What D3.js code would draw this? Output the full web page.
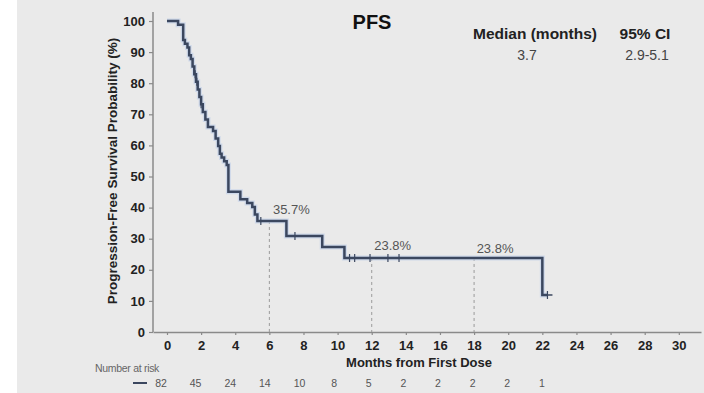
<!DOCTYPE html>
<html>
<head>
<meta charset="utf-8">
<title>PFS</title>
<script src="https://d3js.org/d3.v7.min.js"></script>
<style>
  body { margin: 0; background: #fff; font-family: "Liberation Sans", Arial, sans-serif; }
</style>
</head>
<body>
<svg id="chart"></svg>
<script>
// KM step points (months, survival %)
var stepTimes = [0, 0.65, 0.95, 1.05, 1.2, 1.3, 1.4, 1.5, 1.6, 1.7, 1.8, 1.9, 2.0, 2.1, 2.25, 2.4, 2.7, 2.85, 3.0, 3.1, 3.2, 3.35, 3.5, 3.6, 4.3, 4.7, 5.0, 5.15, 5.3, 7.0, 9.1, 10.4, 22.0];
var stepSurv  = [100, 98.8, 93.9, 92.7, 91.5, 89.0, 87.8, 85.4, 82.9, 80.5, 78.0, 75.6, 73.2, 70.7, 68.3, 65.9, 64.6, 62.2, 59.8, 57.3, 56.1, 54.9, 53.7, 45.1, 42.7, 41.5, 40.2, 37.8, 35.7, 30.9, 27.3, 23.8, 11.9];
var lastTime = 22.3;
// censor marks (months)
var censorTimes = [1.65, 1.75, 2.0, 5.5, 7.5, 10.7, 11.0, 11.9, 12.95, 13.6, 22.3];
// landmark labels
var landmarkMonths = [6, 12, 18];
var landmarkLabels = ["35.7%", "23.8%", "23.8%"];
var landmarkSurv = [35.7, 23.8, 23.8];
// number at risk
var riskMonths = [0, 2, 4, 6, 8, 10, 12, 14, 16, 18, 20, 22];
var riskCounts = [82, 45, 24, 14, 10, 8, 5, 2, 2, 2, 2, 1];
var xTicks = d3.range(0, 31, 2);
var yTicks = d3.range(0, 101, 10);

var W = 704, H = 393;
var svg = d3.select("#chart").attr("width", W).attr("height", H);

svg.append("rect").attr("x", 17).attr("y", 0).attr("width", W - 17).attr("height", H).attr("fill", "#eaeaea");

var x = d3.scaleLinear().domain([-0.82, 31.3]).range([153, 701]);
var y = d3.scaleLinear().domain([0, 100]).range([332, 21]);

// axes
var xAxis = svg.append("g").attr("transform", "translate(0,332)")
  .call(d3.axisBottom(x).tickValues(xTicks).tickSize(3).tickSizeOuter(0));
var yAxis = svg.append("g").attr("transform", "translate(153,0)")
  .call(d3.axisLeft(y).tickValues(yTicks).tickSize(4).tickSizeOuter(0));
yAxis.select(".domain").attr("d", "M0," + y(0) + "V" + (y(100) - 9));

[xAxis, yAxis].forEach(function(a) {
  a.select(".domain").attr("stroke", "#8a8a8a").attr("stroke-width", 1.5);
  a.selectAll(".tick line").attr("stroke", "#8a8a8a").attr("stroke-width", 1.2);
  a.selectAll(".tick text").attr("fill", "#222").attr("font-weight", "bold")
    .attr("font-size", "13px").attr("font-family", "Liberation Sans, Arial, sans-serif");
});
xAxis.selectAll(".tick text").attr("dy", "0.95em");
yAxis.selectAll(".tick text").attr("dx", "-1px");

// axis titles
svg.append("text")
  .attr("transform", "translate(117,171)rotate(-90)")
  .attr("text-anchor", "middle")
  .attr("font-weight", "bold").attr("font-size", "13.5px").attr("fill", "#222")
  .text("Progression-Free Survival Probability (%)");
svg.append("text")
  .attr("x", 419).attr("y", 367)
  .attr("text-anchor", "middle")
  .attr("font-weight", "bold").attr("font-size", "13px").attr("fill", "#222")
  .text("Months from First Dose");

// title & stats
svg.append("text").attr("x", 372).attr("y", 29).attr("text-anchor", "middle")
  .attr("font-weight", "bold").attr("font-size", "20px").attr("fill", "#111").text("PFS");
svg.append("text").attr("x", 535).attr("y", 39).attr("text-anchor", "middle")
  .attr("font-weight", "bold").attr("font-size", "15.5px").attr("fill", "#222").text("Median (months)");
svg.append("text").attr("x", 645).attr("y", 39).attr("text-anchor", "middle")
  .attr("font-weight", "bold").attr("font-size", "15.5px").attr("fill", "#222").text("95% CI");
svg.append("text").attr("x", 527).attr("y", 60).attr("text-anchor", "middle")
  .attr("font-size", "14px").attr("fill", "#444").text("3.7");
svg.append("text").attr("x", 647).attr("y", 60).attr("text-anchor", "middle")
  .attr("font-size", "14px").attr("fill", "#444").text("2.9-5.1");

// step data
var steps = stepTimes.map(function(t, i) { return [t, stepSurv[i]]; });
steps.push([lastTime, stepSurv[stepSurv.length - 1]]);
function survAt(t) {
  var s = stepSurv[0];
  for (var i = 0; i < stepTimes.length; i++) if (stepTimes[i] <= t) s = stepSurv[i];
  return s;
}

// landmark dashed lines
svg.selectAll(".lm").data(landmarkMonths).enter().append("line")
  .attr("x1", function(d) { return x(d); }).attr("x2", function(d) { return x(d); })
  .attr("y1", function(d, i) { return y(landmarkSurv[i]); }).attr("y2", y(0))
  .attr("stroke", "#9a9a9a").attr("stroke-width", 1).attr("stroke-dasharray", "3,3");
var lmOffsets = [[22, -11], [21, -12], [21, -9]];
svg.selectAll(".lmt").data(landmarkLabels).enter().append("text")
  .attr("x", function(d, i) { return x(landmarkMonths[i]) + lmOffsets[i][0]; })
  .attr("y", function(d, i) { return y(landmarkSurv[i]) + lmOffsets[i][1] + 4; })
  .attr("text-anchor", "middle").attr("font-size", "13px").attr("fill", "#555")
  .text(function(d) { return d; });

// KM curve
var line = d3.line().x(function(d) { return x(d[0]); }).y(function(d) { return y(d[1]); })
  .curve(d3.curveStepAfter);
svg.append("path").datum(steps).attr("d", line).attr("fill", "none")
  .attr("stroke", "#c3d2ea").attr("stroke-width", 5).attr("stroke-opacity", 0.7);
svg.append("path").datum(steps).attr("d", line).attr("fill", "none")
  .attr("stroke", "#3b475f").attr("stroke-width", 2.5);

// censor ticks
svg.selectAll(".cen").data(censorTimes).enter().append("line")
  .attr("x1", function(d) { return x(d); }).attr("x2", function(d) { return x(d); })
  .attr("y1", function(d) { return y(survAt(d)) - 4; })
  .attr("y2", function(d) { return y(survAt(d)) + 4; })
  .attr("stroke", "#3b475f").attr("stroke-width", 1.2);
svg.append("line")
  .attr("x1", x(lastTime)).attr("x2", x(lastTime) + 5)
  .attr("y1", y(stepSurv[stepSurv.length - 1])).attr("y2", y(stepSurv[stepSurv.length - 1]))
  .attr("stroke", "#3b475f").attr("stroke-width", 1.5);

// number at risk
svg.append("text").attr("x", 95).attr("y", 372).attr("font-size", "10.5px")
  .attr("fill", "#666").attr("letter-spacing", "-0.3px").text("Number at risk");
svg.append("line").attr("x1", 133).attr("x2", 147).attr("y1", 383).attr("y2", 383)
  .attr("stroke", "#3b475f").attr("stroke-width", 2);
svg.selectAll(".risk").data(riskCounts).enter().append("text")
  .attr("x", function(d, i) { return x(riskMonths[i]) - 6 + i * 0.5; })
  .attr("y", 387).attr("text-anchor", "middle")
  .attr("font-size", "10.5px").attr("fill", "#555")
  .text(function(d) { return d; });
</script>
</body>
</html>
